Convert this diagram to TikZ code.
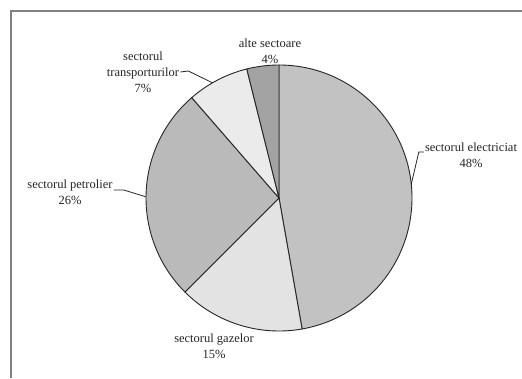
\documentclass[tikz,border=0pt]{standalone}
\usepackage{fontspec}
\setmainfont{Liberation Serif}
\usetikzlibrary{positioning}

\begin{document}
\begin{tikzpicture}[x=1pt, y=1pt,
  slice/.style={draw=black!85, line width=0.9pt},
  lbl/.style={align=center, inner sep=1pt, text=black!85, font=\fontsize{12.5}{16}\selectfont},
  leader/.style={draw=black!85, line width=0.8pt}]
\useasboundingbox (0,0) rectangle (522,378);
\fill[white] (0,0) rectangle (522,378);

% frame
\draw[black!50, line width=1.3pt] (11,0) -- (11,367) -- (522,367);

% pie
\coordinate (c) at (279,180);
\draw[slice, fill=black!24] (c) -- ++(90:133) arc (90:-80:133) -- cycle;
\draw[slice, fill=black!11] (c) -- ++(-80:133) arc (-80:-135:133) -- cycle;
\draw[slice, fill=black!27] (c) -- ++(-135:133) arc (-135:-229:133) -- cycle;
\draw[slice, fill=black!8] (c) -- ++(131:133) arc (131:104:133) -- cycle;
\draw[slice, fill=black!36] (c) -- ++(104:133) arc (104:90:133) -- cycle;

% labels
\node[lbl] (alte) at (270,327) {alte sectoare\\4\%};
\node[lbl] (trans) at (143,306) {sectorul\\transporturilor\\7\%};
\node[lbl] (elec) at (471,223) {sectorul electriciat\\48\%};
\node[lbl] (petr) at (70,186) {sectorul petrolier\\26\%};
\node[lbl] (gaz) at (214,32) {sectorul gazelor\\15\%};

% leader lines
\coordinate (rimT) at ([shift={(120:133)}]c);
\coordinate (rimE) at ([shift={(6:133)}]c);
\coordinate (rimP) at ([shift={(179.5:133)}]c);
\draw[leader] (trans.east) -- ++(8,1) -- (rimT);
\draw[leader] ([yshift=3]elec.west) -- ++(-5,0) -- (rimE);
\draw[leader] ([yshift=2]petr.east) -- ++(10,0) -- (rimP);

\end{tikzpicture}
\end{document}
